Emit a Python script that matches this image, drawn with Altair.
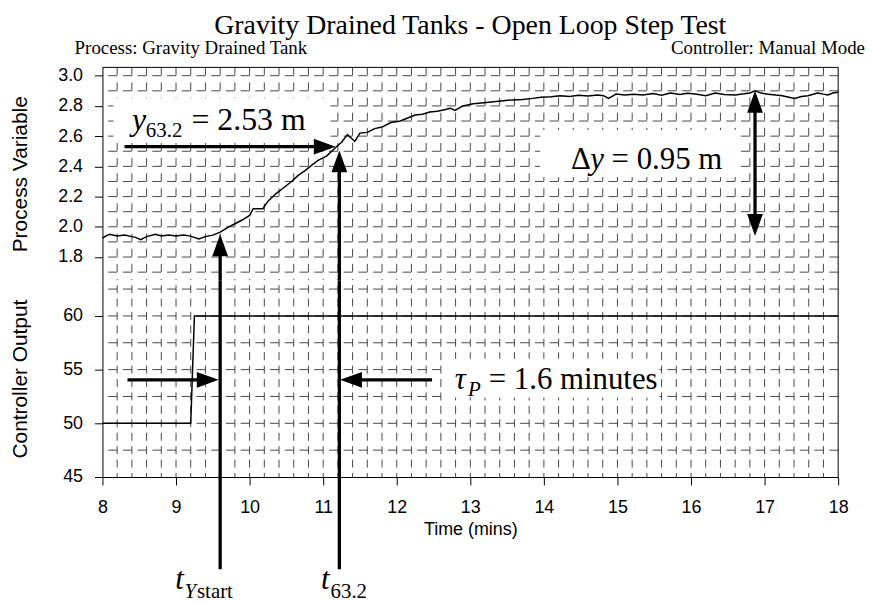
import altair as alt
import pandas as pd

# ---------------- data ----------------
pv_time = [8.00, 8.05, 8.10, 8.20, 8.30, 8.40, 8.45, 8.52, 8.60, 8.72,
           8.80, 8.90, 9.00, 9.10, 9.18, 9.25, 9.31, 9.40, 9.50, 9.60,
           9.70, 9.80, 9.90, 10.00, 10.05, 10.18, 10.25, 10.36, 10.48, 10.57,
           10.66, 10.75, 10.85, 10.93, 11.05, 11.17, 11.25, 11.33, 11.43, 11.50,
           11.60, 11.70, 11.80, 11.92, 12.05, 12.15, 12.25, 12.35, 12.45, 12.55,
           12.65, 12.73, 12.79, 12.90, 13.04, 13.15, 13.25, 13.35, 13.45, 13.58,
           13.71, 13.85, 13.96, 14.10, 14.22, 14.35, 14.47, 14.60, 14.73, 14.81,
           14.88, 14.98, 15.10, 15.22, 15.35, 15.48, 15.60, 15.72, 15.85, 15.95,
           16.06, 16.20, 16.33, 16.45, 16.60, 16.72, 16.80, 16.87, 16.95, 17.05,
           17.15, 17.24, 17.33, 17.41, 17.50, 17.59, 17.72, 17.80, 17.86, 17.93,
           18.00]
pv_value = [1.925, 1.940, 1.950, 1.940, 1.945, 1.935, 1.930, 1.915, 1.935, 1.950,
            1.940, 1.945, 1.940, 1.945, 1.940, 1.930, 1.920, 1.935, 1.945, 1.965,
            1.995, 2.020, 2.045, 2.075, 2.120, 2.120, 2.170, 2.220, 2.265, 2.300,
            2.340, 2.370, 2.410, 2.440, 2.470, 2.525, 2.560, 2.610, 2.565, 2.620,
            2.625, 2.650, 2.660, 2.690, 2.700, 2.720, 2.740, 2.745, 2.760, 2.765,
            2.775, 2.785, 2.770, 2.800, 2.815, 2.820, 2.825, 2.830, 2.835, 2.840,
            2.842, 2.850, 2.857, 2.860, 2.868, 2.862, 2.870, 2.866, 2.873, 2.868,
            2.850, 2.879, 2.872, 2.878, 2.872, 2.882, 2.870, 2.885, 2.876, 2.884,
            2.879, 2.868, 2.886, 2.876, 2.873, 2.880, 2.886, 2.900, 2.885, 2.878,
            2.872, 2.868, 2.858, 2.850, 2.862, 2.868, 2.886, 2.878, 2.873, 2.885,
            2.890]

co_time = [8.0, 9.2, 9.25, 18.0]
co_value = [50, 50, 60, 60]

x_ticks = [8, 9, 10, 11, 12, 13, 14, 15, 16, 17, 18]
pv_ticks = [1.8, 2.0, 2.2, 2.4, 2.6, 2.8, 3.0]
co_ticks = [45, 50, 55, 60]
x_grid = [round(8 + 0.2 * i, 1) for i in range(1, 50)]
pv_grid = [1.7, 1.8, 1.9, 2.0, 2.1, 2.2, 2.3, 2.4, 2.5, 2.6, 2.7, 2.8, 2.9, 3.0]
co_grid = [47.5, 50, 52.5, 55, 57.5, 60, 62.5]

X_DOMAIN = [8, 18]
PV_DOMAIN = [1.647, 3.055]
CO_DOMAIN = [45, 63.33]

# annotation arrays
pv_shaft_x = [8.30, 11.22, 9.60, 16.87]
pv_shaft_x2 = [11.02, 11.22, 9.60, 16.87]
pv_shaft_y = [2.53, 2.42, 1.87, 2.84]
pv_shaft_y2 = [2.53, 1.647, 1.647, 2.00]
pv_head_x = [11.17, 11.22, 9.60, 16.87, 16.87]
pv_head_y = [2.53, 2.505, 1.95, 2.90, 1.94]
pv_head_angle = [90, 0, 0, 0, 180]

co_shaft_x = [8.34, 12.48, 11.22, 9.60]
co_shaft_x2 = [9.45, 11.35, 11.22, 9.60]
co_shaft_y = [54.05, 54.05, 63.33, 63.33]
co_shaft_y2 = [54.05, 54.05, 36.42, 36.42]
co_head_x = [9.58, 11.23]
co_head_y = [54.05, 54.05]
co_head_angle = [90, 270]

pv_box_x = [8.15, 13.95]
pv_box_x2 = [11.10, 16.65]
pv_box_y = [2.57, 2.33]
pv_box_y2 = [2.85, 2.64]
co_box_x = [12.63]
co_box_x2 = [15.57]
co_box_y = [52.4]
co_box_y2 = [56.0]

pv_ital_text = ["y", "y"]
pv_ital_x = [8.40, 14.63]
pv_ital_y = [2.64, 2.385]
pv_ital_size = [32, 31]
pv_rom_text = ["63.2", "= 2.53 m", "\u0394", "= 0.95 m"]
pv_rom_x = [8.59, 9.21, 14.37, 14.92]
pv_rom_y = [2.594, 2.64, 2.385, 2.385]
pv_rom_size = [21, 32, 31, 31]

co_ital_text = ["\u03c4", "P", "t", "Y", "t"]
co_ital_x = [12.79, 12.97, 8.99, 9.115, 10.97]
co_ital_y = [53.24, 52.5, 34.56, 33.73, 34.56]
co_ital_size = [31, 21, 31, 21, 31]
co_rom_text = ["= 1.6 minutes", "start", "63.2"]
co_rom_x = [13.25, 9.285, 11.10]
co_rom_y = [53.24, 33.73, 33.73]
co_rom_size = [31, 21, 21]

title_text = "Gravity Drained Tanks - Open Loop Step Test"
sub_left = "Process: Gravity Drained Tank"
sub_right = "Controller: Manual Mode"

SANS = "Liberation Sans"
SERIF = "Liberation Serif"
W = 740
H_TOP = 214
H_BOT = 198
ARROW = "M0,0 L0.36,1 L-0.36,1 Z"
GRID = "#333333"

xs = alt.Scale(domain=X_DOMAIN, nice=False, zero=False)
pvs = alt.Scale(domain=PV_DOMAIN, nice=False, zero=False)
cos = alt.Scale(domain=CO_DOMAIN, nice=False, zero=False)

common_axis = dict(grid=False, tickSize=8, tickColor="black", domainColor="black",
                   labelFont=SANS, labelFontSize=18, labelColor="black",
                   titleFont=SANS, titleFontWeight="normal", titleColor="black")

pv_axis = alt.Axis(values=pv_ticks, format=".1f", title="Process Variable",
                   labelPadding=12, titleX=-82, titleY=H_TOP / 2, titleAngle=270,
                   titleAlign="center", titleBaseline="middle", titleFontSize=21,
                   **common_axis)
co_axis = alt.Axis(values=co_ticks, format="d", title="Controller Output",
                   labelPadding=12, titleX=-82, titleY=H_BOT / 2, titleAngle=270,
                   titleAlign="center", titleBaseline="middle", titleFontSize=21,
                   **common_axis)
x_axis = alt.Axis(values=x_ticks, format="d", title="Time (mins)", labelPadding=14,
                  titlePadding=4, labelFlush=False, labelOverlap=False, titleFontSize=18,
                  **common_axis)


def X(f, axis=None):
    return alt.X(f, type="quantitative", scale=xs, axis=axis)


def YP(f):
    return alt.Y(f, type="quantitative", scale=pvs, axis=pv_axis)


def YC(f):
    return alt.Y(f, type="quantitative", scale=cos, axis=co_axis)


# ---------------- top panel ----------------
pv_df = pd.DataFrame({"t": pv_time, "v": pv_value})

top_hgrid = alt.Chart(pd.DataFrame({"g": pv_grid})).mark_rule(
    color=GRID, strokeWidth=0.9, strokeDash=[9, 5.8]).encode(y=YP("g"))
top_vgrid = alt.Chart(pd.DataFrame({"g": x_grid})).mark_rule(
    color=GRID, strokeWidth=0.9, strokeDash=[8, 7.2]).encode(x=X("g"))
top_box = alt.Chart(pd.DataFrame({"x": pv_box_x, "x2": pv_box_x2, "y": pv_box_y, "y2": pv_box_y2})).mark_rect(
    fill="white").encode(x=X("x"), x2="x2", y=YP("y"), y2="y2")
top_line = alt.Chart(pv_df).mark_line(color="black", strokeWidth=1.5).encode(x=X("t"), y=YP("v"))
top_shaft = alt.Chart(pd.DataFrame({"x": pv_shaft_x, "x2": pv_shaft_x2, "y": pv_shaft_y, "y2": pv_shaft_y2})).mark_rule(
    color="black", strokeWidth=3.3).encode(x=X("x"), x2="x2", y=YP("y"), y2="y2")
top_head = alt.Chart(pd.DataFrame({"x": pv_head_x, "y": pv_head_y, "a": pv_head_angle})).mark_point(
    shape=ARROW, size=1936, filled=True, color="black", opacity=1, strokeWidth=0).encode(
    x=X("x"), y=YP("y"), angle=alt.Angle("a:Q", scale=None))
top_ital = alt.Chart(pd.DataFrame({"s": pv_ital_text, "x": pv_ital_x, "y": pv_ital_y, "fs": pv_ital_size})).mark_text(
    font=SERIF, fontStyle="italic", align="left", baseline="alphabetic", color="black").encode(
    x=X("x"), y=YP("y"), text="s:N", size=alt.Size("fs:Q", scale=None))
top_rom = alt.Chart(pd.DataFrame({"s": pv_rom_text, "x": pv_rom_x, "y": pv_rom_y, "fs": pv_rom_size})).mark_text(
    font=SERIF, align="left", baseline="alphabetic", color="black").encode(
    x=X("x"), y=YP("y"), text="s:N", size=alt.Size("fs:Q", scale=None))
top_border = alt.Chart(pd.DataFrame({"d": [0]})).mark_rule(color="black", strokeWidth=1).encode(
    y=alt.value(0))
top_right = alt.Chart(pd.DataFrame({"d": [0]})).mark_rule(color="black", strokeWidth=1).encode(
    x=alt.value(W))
top_title = alt.Chart(pd.DataFrame({"s": [title_text], "x": [13]})).mark_text(
    font=SERIF, fontSize=28, align="center", baseline="alphabetic", color="black").encode(
    x=X("x"), y=alt.value(-34), text="s:N")
top_sub_l = alt.Chart(pd.DataFrame({"s": [sub_left], "x": [8]})).mark_text(
    font=SERIF, fontSize=19, align="left", baseline="alphabetic", color="black", dx=-28).encode(
    x=X("x"), y=alt.value(-13), text="s:N")
top_sub_r = alt.Chart(pd.DataFrame({"s": [sub_right], "x": [18]})).mark_text(
    font=SERIF, fontSize=19, align="right", baseline="alphabetic", color="black", dx=27).encode(
    x=X("x"), y=alt.value(-13), text="s:N")

top = alt.layer(top_hgrid, top_vgrid, top_box, top_line, top_shaft, top_head,
                top_ital, top_rom, top_border, top_right, top_title, top_sub_l, top_sub_r
                ).properties(width=W, height=H_TOP)

# ---------------- bottom panel ----------------
co_df = pd.DataFrame({"t": co_time, "v": co_value})

bot_hgrid = alt.Chart(pd.DataFrame({"g": co_grid})).mark_rule(
    color=GRID, strokeWidth=0.9, strokeDash=[9, 5.8]).encode(y=YC("g"))
bot_vgrid = alt.Chart(pd.DataFrame({"g": x_grid})).mark_rule(
    color=GRID, strokeWidth=0.9, strokeDash=[8, 5.5], strokeDashOffset=8.5).encode(x=X("g", x_axis))
bot_box = alt.Chart(pd.DataFrame({"x": co_box_x, "x2": co_box_x2, "y": co_box_y, "y2": co_box_y2})).mark_rect(
    fill="white").encode(x=X("x", x_axis), x2="x2", y=YC("y"), y2="y2")
bot_line = alt.Chart(co_df).mark_line(color="black", strokeWidth=1.5).encode(x=X("t", x_axis), y=YC("v"))
bot_shaft = alt.Chart(pd.DataFrame({"x": co_shaft_x, "x2": co_shaft_x2, "y": co_shaft_y, "y2": co_shaft_y2})).mark_rule(
    color="black", strokeWidth=3.3).encode(x=X("x", x_axis), x2="x2", y=YC("y"), y2="y2")
bot_head = alt.Chart(pd.DataFrame({"x": co_head_x, "y": co_head_y, "a": co_head_angle})).mark_point(
    shape=ARROW, size=1936, filled=True, color="black", opacity=1, strokeWidth=0).encode(
    x=X("x", x_axis), y=YC("y"), angle=alt.Angle("a:Q", scale=None))
bot_ital = alt.Chart(pd.DataFrame({"s": co_ital_text, "x": co_ital_x, "y": co_ital_y, "fs": co_ital_size})).mark_text(
    font=SERIF, fontStyle="italic", align="left", baseline="alphabetic", color="black").encode(
    x=X("x", x_axis), y=YC("y"), text="s:N", size=alt.Size("fs:Q", scale=None))
bot_rom = alt.Chart(pd.DataFrame({"s": co_rom_text, "x": co_rom_x, "y": co_rom_y, "fs": co_rom_size})).mark_text(
    font=SERIF, align="left", baseline="alphabetic", color="black").encode(
    x=X("x", x_axis), y=YC("y"), text="s:N", size=alt.Size("fs:Q", scale=None))
bot_right = alt.Chart(pd.DataFrame({"d": [0]})).mark_rule(color="black", strokeWidth=1).encode(
    x=alt.value(W))

bottom = alt.layer(bot_hgrid, bot_vgrid, bot_box, bot_line, bot_shaft, bot_head,
                   bot_ital, bot_rom, bot_right).properties(width=W, height=H_BOT)

chart = alt.vconcat(top, bottom, spacing=0, bounds="flush").configure_view(
    stroke=None).properties(
    padding={"left": 2, "top": 2, "right": 0, "bottom": 0},
    background="white")

chart.save("out.html", embed_options={"renderer": "svg", "actions": False})
